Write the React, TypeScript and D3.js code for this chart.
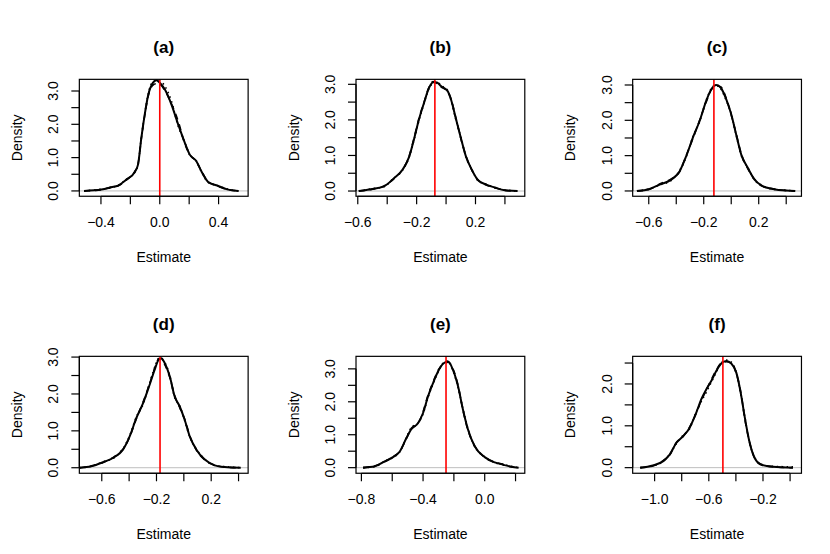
import React from "react";
import * as d3 from "d3";

// figure size and R-like margins (in px)
const W = 830;
const H = 554;
const NCOL = 3;
const NROW = 2;
const LINE = 17.4; // one margin line
const MAR = { bottom: 5.1, left: 4.1, top: 4.1, right: 2.1 };

const titles = ["(a)", "(b)", "(c)", "(d)", "(e)", "(f)"];
const truth = [0, -0.076, -0.126, -0.174, -0.251, -0.496];

// axis limits and ticks
const xLims = [
  [-0.547, 0.601],
  [-0.612, 0.535],
  [-0.717, 0.511],
  [-0.764, 0.47],
  [-0.835, 0.26],
  [-1.162, 0.084],
];
const yLims = [
  [-0.16, 3.35],
  [-0.147, 3.14],
  [-0.15, 3.16],
  [-0.15, 3.02],
  [-0.17, 3.38],
  [-0.134, 2.66],
];
const xTicks = [
  [-0.4, -0.2, 0, 0.2, 0.4],
  [-0.6, -0.4, -0.2, 0, 0.2, 0.4],
  [-0.6, -0.4, -0.2, 0, 0.2, 0.4],
  [-0.6, -0.4, -0.2, 0, 0.2, 0.4],
  [-0.8, -0.6, -0.4, -0.2, 0, 0.2],
  [-1.0, -0.8, -0.6, -0.4, -0.2, 0],
];
const xLabels = [
  [-0.4, 0, 0.4],
  [-0.6, -0.2, 0.2],
  [-0.6, -0.2, 0.2],
  [-0.6, -0.2, 0.2],
  [-0.8, -0.4, 0],
  [-1.0, -0.6, -0.2],
];
const yTicks = [
  [0, 0.5, 1, 1.5, 2, 2.5, 3],
  [0, 0.5, 1, 1.5, 2, 2.5, 3],
  [0, 0.5, 1, 1.5, 2, 2.5, 3],
  [0, 0.5, 1, 1.5, 2, 2.5, 3],
  [0, 0.5, 1, 1.5, 2, 2.5, 3],
  [0, 0.5, 1, 1.5, 2, 2.5],
];
const yLabels = [
  [0, 1, 2, 3],
  [0, 1, 2, 3],
  [0, 1, 2, 3],
  [0, 1, 2, 3],
  [0, 1, 2, 3],
  [0, 1, 2],
];

// density curves: estimate grid + three overlaid densities
const aEst = [-0.515, -0.397, -0.329, -0.284, -0.227, -0.17, -0.148, -0.125, -0.102, -0.08, -0.046, -0.023, 0, 0.034, 0.079, 0.125, 0.17, 0.204, 0.249, 0.283, 0.329, 0.385, 0.465, 0.537];
const aSolid = [0, 0.04, 0.11, 0.16, 0.34, 0.57, 0.79, 1.6, 2.3, 2.85, 3.25, 3.32, 3.25, 3.05, 2.6, 2.0, 1.45, 1.09, 0.89, 0.59, 0.27, 0.17, 0.04, 0];
const aDashed = [0, 0.04, 0.12, 0.15, 0.33, 0.58, 0.8, 1.58, 2.28, 2.82, 3.18, 3.22, 3.2, 3.02, 2.62, 2.1, 1.42, 1.1, 0.88, 0.6, 0.28, 0.16, 0.04, 0];
const aDotted = [0, 0.05, 0.1, 0.17, 0.35, 0.56, 0.78, 1.62, 2.32, 2.88, 3.28, 3.3, 3.3, 3.15, 2.7, 1.95, 1.46, 1.08, 0.9, 0.58, 0.26, 0.17, 0.05, 0];

const bEst = [-0.593, -0.491, -0.422, -0.354, -0.297, -0.251, -0.217, -0.183, -0.149, -0.115, -0.087, -0.062, -0.035, 0.011, 0.033, 0.067, 0.102, 0.136, 0.17, 0.216, 0.273, 0.33, 0.398, 0.485];
const bSolid = [0, 0.065, 0.13, 0.36, 0.59, 0.96, 1.47, 2.03, 2.49, 2.91, 3.06, 3.05, 2.95, 2.81, 2.58, 2.03, 1.47, 0.96, 0.64, 0.31, 0.18, 0.1, 0.02, 0];
const bDashed = [0, 0.06, 0.14, 0.35, 0.6, 0.98, 1.5, 2.06, 2.5, 2.93, 3.08, 3.02, 2.93, 2.8, 2.6, 2.05, 1.45, 0.98, 0.63, 0.32, 0.17, 0.1, 0.02, 0];
const bDotted = [0, 0.07, 0.12, 0.37, 0.58, 0.95, 1.45, 2.0, 2.47, 2.89, 3.04, 3.07, 2.97, 2.83, 2.56, 2.0, 1.49, 0.95, 0.65, 0.3, 0.19, 0.09, 0.03, 0];

const cEst = [-0.686, -0.594, -0.521, -0.436, -0.375, -0.327, -0.279, -0.23, -0.182, -0.145, -0.109, -0.077, -0.036, 0, 0.036, 0.073, 0.121, 0.17, 0.218, 0.303, 0.4, 0.465];
const cSolid = [0, 0.057, 0.18, 0.32, 0.56, 0.99, 1.51, 1.98, 2.55, 2.88, 3.0, 2.93, 2.59, 2.17, 1.6, 1.03, 0.65, 0.32, 0.16, 0.057, 0.01, 0];
const cDashed = [0, 0.05, 0.2, 0.34, 0.55, 1.01, 1.48, 2.0, 2.52, 2.86, 2.97, 2.95, 2.62, 2.15, 1.62, 1.05, 0.63, 0.33, 0.15, 0.06, 0.01, 0];
const cDotted = [0, 0.06, 0.17, 0.3, 0.58, 0.97, 1.53, 1.96, 2.57, 2.9, 3.01, 2.9, 2.56, 2.19, 1.58, 1.01, 0.66, 0.31, 0.17, 0.05, 0.02, 0];

const dEst = [-0.762, -0.677, -0.591, -0.506, -0.445, -0.396, -0.347, -0.298, -0.25, -0.213, -0.184, -0.165, -0.14, -0.103, -0.067, -0.03, 0.006, 0.043, 0.092, 0.153, 0.226, 0.299, 0.416];
const dSolid = [0, 0.04, 0.15, 0.29, 0.49, 0.85, 1.35, 1.75, 2.25, 2.66, 2.93, 2.97, 2.84, 2.48, 1.93, 1.66, 1.3, 0.85, 0.49, 0.22, 0.065, 0.02, 0];
const dDashed = [0, 0.05, 0.14, 0.31, 0.5, 0.83, 1.33, 1.78, 2.28, 2.7, 2.95, 2.95, 2.8, 2.45, 1.96, 1.63, 1.32, 0.87, 0.48, 0.21, 0.07, 0.02, 0];
const dDotted = [0, 0.04, 0.16, 0.28, 0.52, 0.87, 1.38, 1.72, 2.3, 2.72, 2.96, 2.94, 2.86, 2.5, 1.9, 1.68, 1.28, 0.84, 0.5, 0.23, 0.06, 0.03, 0];

const eEst = [-0.789, -0.713, -0.649, -0.595, -0.551, -0.508, -0.476, -0.433, -0.4, -0.368, -0.335, -0.303, -0.266, -0.238, -0.206, -0.173, -0.141, -0.108, -0.065, 0, 0.065, 0.119, 0.172, 0.22];
const eSolid = [0, 0.04, 0.19, 0.32, 0.49, 0.9, 1.17, 1.35, 1.66, 2.16, 2.57, 2.92, 3.17, 3.22, 2.97, 2.47, 1.76, 1.15, 0.65, 0.32, 0.16, 0.09, 0.03, 0];
const eDashed = [0, 0.05, 0.18, 0.33, 0.5, 0.88, 1.2, 1.33, 1.7, 2.2, 2.6, 2.95, 3.15, 3.2, 3.0, 2.5, 1.74, 1.13, 0.66, 0.31, 0.17, 0.1, 0.03, 0];
const eDotted = [0, 0.03, 0.2, 0.31, 0.48, 0.92, 1.22, 1.36, 1.63, 2.13, 2.54, 2.9, 3.19, 3.24, 2.95, 2.44, 1.78, 1.17, 0.64, 0.33, 0.15, 0.1, 0.04, 0];

const fEst = [-1.106, -1.013, -0.939, -0.889, -0.84, -0.791, -0.742, -0.693, -0.656, -0.619, -0.582, -0.545, -0.508, -0.471, -0.434, -0.397, -0.36, -0.336, -0.298, -0.261, -0.213, -0.126, 0.021];
const fSolid = [0, 0.05, 0.15, 0.31, 0.59, 0.75, 0.95, 1.31, 1.63, 1.87, 2.07, 2.31, 2.49, 2.55, 2.49, 2.27, 1.71, 1.23, 0.59, 0.23, 0.07, 0.02, 0];
const fDashed = [0, 0.04, 0.16, 0.3, 0.6, 0.74, 0.97, 1.3, 1.6, 1.85, 2.1, 2.33, 2.5, 2.53, 2.5, 2.25, 1.73, 1.2, 0.6, 0.22, 0.08, 0.02, 0];
const fDotted = [0, 0.05, 0.14, 0.32, 0.57, 0.77, 0.93, 1.33, 1.58, 1.8, 2.04, 2.28, 2.5, 2.57, 2.52, 2.28, 1.69, 1.25, 0.58, 0.24, 0.07, 0.03, 0.02];

const ests = [aEst, bEst, cEst, dEst, eEst, fEst];
const solids = [aSolid, bSolid, cSolid, dSolid, eSolid, fSolid];
const dashes = [aDashed, bDashed, cDashed, dDashed, eDashed, fDashed];
const dots = [aDotted, bDotted, cDotted, dDotted, eDotted, fDotted];

const FONT = "'Liberation Sans', Arial, Helvetica, sans-serif";
const fmt = d3.format(".1f"); // keeps the unicode minus, like R's axis labels

function Panel({ i }: { i: number }) {
  const col = i % NCOL;
  const row = Math.floor(i / NCOL);
  const pw = W / NCOL;
  const ph = H / NROW;
  const x0 = col * pw + MAR.left * LINE;
  const x1 = (col + 1) * pw - MAR.right * LINE;
  const y0 = row * ph + MAR.top * LINE;
  const y1 = (row + 1) * ph - MAR.bottom * LINE;

  const x = d3.scaleLinear().domain(xLims[i]).range([x0, x1]);
  const y = d3.scaleLinear().domain(yLims[i]).range([y1, y0]);

  const line = d3
    .line<[number, number]>()
    .x((d) => x(d[0]))
    .y((d) => y(d[1]))
    .curve(d3.curveMonotoneX);

  const pts = (ys: number[]) => ests[i].map((e, k) => [e, ys[k]] as [number, number]);
  const tick = 8;

  return (
    <g>
      <clipPath id={"clip" + i}>
        <rect x={x0} y={y0} width={x1 - x0} height={y1 - y0} />
      </clipPath>
      <g clipPath={`url(#clip${i})`}>
        <line x1={x0} x2={x1} y1={y(0)} y2={y(0)} stroke="#BEBEBE" strokeWidth={1} />
        <path d={line(pts(dots[i])) || ""} fill="none" stroke="#000" strokeWidth={1.6} strokeDasharray="1.5,3.5" />
        <path d={line(pts(dashes[i])) || ""} fill="none" stroke="#000" strokeWidth={1.6} strokeDasharray="6,5" />
        <path d={line(pts(solids[i])) || ""} fill="none" stroke="#000" strokeWidth={2} />
        <line x1={x(truth[i])} x2={x(truth[i])} y1={y0} y2={y1} stroke="#FF0000" strokeWidth={1.6} />
      </g>
      <rect x={x0} y={y0} width={x1 - x0} height={y1 - y0} fill="none" stroke="#000" strokeWidth={1.2} />

      {/* x axis */}
      <line x1={x(xTicks[i][0])} x2={x(xTicks[i][xTicks[i].length - 1])} y1={y1} y2={y1} stroke="#000" strokeWidth={1.2} />
      {xTicks[i].map((t) => (
        <line key={"xt" + t} x1={x(t)} x2={x(t)} y1={y1} y2={y1 + tick} stroke="#000" strokeWidth={1.2} />
      ))}
      {xLabels[i].map((t) => (
        <text key={"xl" + t} x={x(t)} y={y1 + 31} textAnchor="middle" fontSize={14} fontFamily={FONT}>
          {fmt(t)}
        </text>
      ))}

      {/* y axis */}
      <line x1={x0} x2={x0} y1={y(yTicks[i][0])} y2={y(yTicks[i][yTicks[i].length - 1])} stroke="#000" strokeWidth={1.2} />
      {yTicks[i].map((t) => (
        <line key={"yt" + t} x1={x0 - tick} x2={x0} y1={y(t)} y2={y(t)} stroke="#000" strokeWidth={1.2} />
      ))}
      {yLabels[i].map((t) => (
        <text
          key={"yl" + t}
          transform={`translate(${x0 - 21},${y(t)}) rotate(-90)`}
          textAnchor="middle"
          fontSize={14}
          fontFamily={FONT}
        >
          {fmt(t)}
        </text>
      ))}

      <text x={(x0 + x1) / 2} y={y1 + 66} textAnchor="middle" fontSize={14} fontFamily={FONT}>
        Estimate
      </text>
      <text
        transform={`translate(${x0 - 57.5},${(y0 + y1) / 2}) rotate(-90)`}
        textAnchor="middle"
        fontSize={14}
        fontFamily={FONT}
      >
        Density
      </text>
      <text x={(x0 + x1) / 2} y={y0 - 26.5} textAnchor="middle" fontSize={17} fontWeight="bold" fontFamily={FONT}>
        {titles[i]}
      </text>
    </g>
  );
}

export default function App() {
  return (
    <svg width={W} height={H} style={{ display: "block", background: "#fff" }}>
      {titles.map((_, i) => (
        <Panel key={i} i={i} />
      ))}
    </svg>
  );
}
